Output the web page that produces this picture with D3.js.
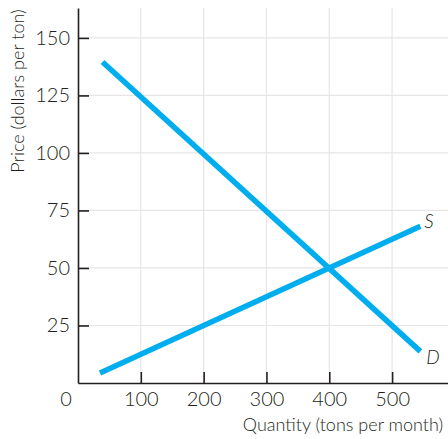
<!DOCTYPE html>
<html><head><meta charset="utf-8">
<script src="https://cdn.jsdelivr.net/npm/d3@7"></script>
<style>body{margin:0;background:#fff}svg{display:block}text{font-family:"Lato","Open Sans",sans-serif;fill:#231f20;font-weight:300}</style>
</head><body>
<script>
const xTicks = [100, 200, 300, 400, 500];
const yTicks = [25, 50, 75, 100, 125, 150];
const demandQ = [39, 545];
const demandP = [139.5, 13.75];
const supplyQ = [35, 545];
const supplyP = [4.4, 68.1];
const labels = ["S", "D"];

const W = 448, H = 439;
const svg = d3.select("body").append("svg").attr("width", W).attr("height", H);
const x = d3.scaleLinear().domain([0, 589]).range([78, 448]);
const y = d3.scaleLinear().domain([0, 163]).range([383, 8]);

// grid
svg.append("g").selectAll("line").data(xTicks).join("line")
  .attr("x1", d => x(d)).attr("x2", d => x(d)).attr("y1", y(0)).attr("y2", y(163))
  .attr("stroke", "#e6e6e6").attr("stroke-width", 1.2);
svg.append("g").selectAll("line").data(yTicks).join("line")
  .attr("x1", x(0)).attr("x2", x(589)).attr("y1", d => y(d)).attr("y2", d => y(d))
  .attr("stroke", "#e6e6e6").attr("stroke-width", 1.2);

// axes
const xAxis = d3.axisBottom(x).tickValues(xTicks).tickSize(-11).tickPadding(9).tickSizeOuter(0);
const gx = svg.append("g").attr("transform", `translate(0,${y(0)})`).call(xAxis);
const yAxis = d3.axisLeft(y).tickValues(yTicks).tickSize(-11).tickPadding(8).tickSizeOuter(0);
const gy = svg.append("g").attr("transform", `translate(${x(0)},0)`).call(yAxis);
[gx, gy].forEach(g => {
  g.attr("font-size", 20).attr("font-family", '"Lato","Open Sans",sans-serif');
  g.select(".domain").attr("stroke", "#231f20").attr("stroke-width", 1.6);
  g.selectAll(".tick line").attr("stroke", "#231f20").attr("stroke-width", 1.6);
  g.selectAll(".tick text").attr("font-size", 20).attr("fill", "#231f20");
});
svg.append("text").attr("x", 66).attr("y", 406).attr("text-anchor", "middle")
  .attr("font-size", 20).text("0");

// curves
const line = d3.line().x(d => x(d[0])).y(d => y(d[1]));
const demand = demandQ.map((q, i) => [q, demandP[i]]);
const supply = supplyQ.map((q, i) => [q, supplyP[i]]);
[supply, demand].forEach(pts => {
  svg.append("path").attr("d", line(pts)).attr("fill", "none")
    .attr("stroke", "#00aeef").attr("stroke-width", 5.5);
});
svg.append("text").attr("x", x(supplyQ[1]) + 4).attr("y", y(supplyP[1]) + 2)
  .attr("font-size", 19).attr("font-style", "italic").text(labels[0]);
svg.append("text").attr("x", x(demandQ[1]) + 6).attr("y", y(demandP[1]) + 13)
  .attr("font-size", 19).attr("font-style", "italic").text(labels[1]);

// titles
svg.append("text").attr("x", 343).attr("y", 431).attr("text-anchor", "middle")
  .attr("font-size", 18).text("Quantity (tons per month)");
svg.append("text").attr("transform", "translate(24,91) rotate(-90)").attr("text-anchor", "middle")
  .attr("font-size", 18).text("Price (dollars per ton)");
</script>
</body></html>
